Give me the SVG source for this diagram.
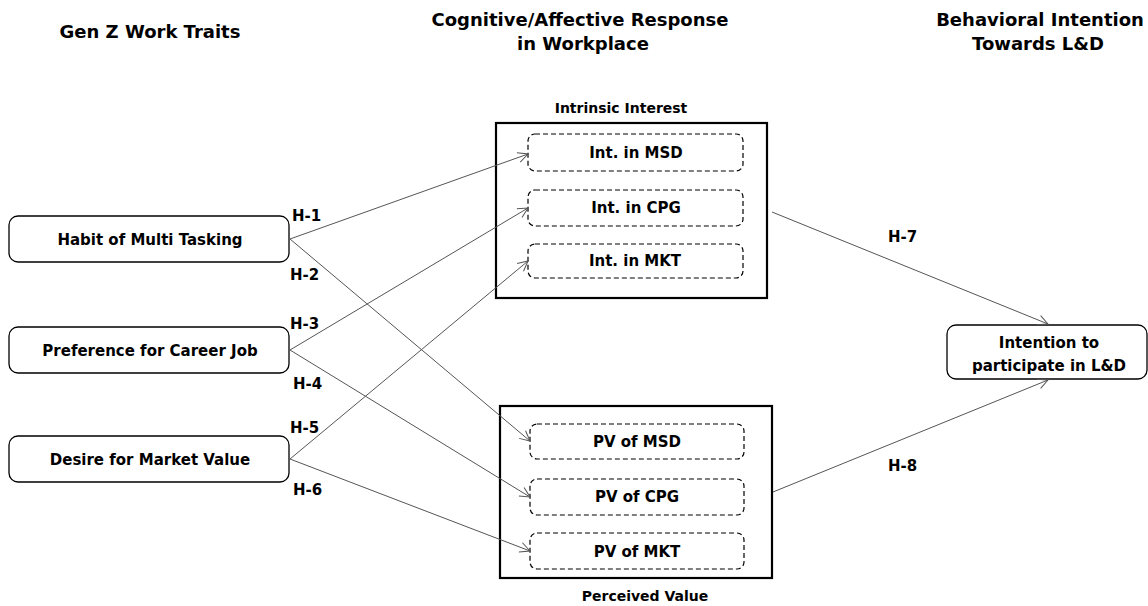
<svg xmlns="http://www.w3.org/2000/svg" width="1148" height="606" viewBox="0 0 1148 606">
<defs>
<marker id="arr" markerWidth="12" markerHeight="12" refX="11" refY="6" orient="auto" markerUnits="userSpaceOnUse">
<path d="M1,1 L11,6 L1,11" fill="none" stroke="#555" stroke-width="1"/>
</marker>
</defs>
<style>
text{font-family:"DejaVu Sans","Liberation Sans",sans-serif;font-weight:bold;fill:#000}
.h{font-size:18px}
.n{font-size:15px}
.g{font-size:14px}
.lbl{font-size:15px}
.node{fill:#fff;stroke:#000;stroke-width:1.3}
.grp{fill:none;stroke:#000;stroke-width:2.2}
.dash{fill:#fff;stroke:#000;stroke-width:1.2;stroke-dasharray:5,3}
.edge{stroke:#555;stroke-width:1;fill:none;marker-end:url(#arr)}
</style>
<rect width="1148" height="606" fill="#fff"/>
<g id="headings">
<text class="h" x="150" y="38" text-anchor="middle">Gen Z Work Traits</text>
<text class="h" x="580" y="26" text-anchor="middle">Cognitive/Affective Response</text>
<text class="h" x="583" y="50" text-anchor="middle">in Workplace</text>
<text class="h" x="1040" y="26" text-anchor="middle">Behavioral Intention</text>
<text class="h" x="1038" y="50" text-anchor="middle">Towards L&amp;D</text>
</g>
<g id="intrinsic">
<rect class="grp" x="496" y="123" width="271" height="175"/>
<text class="g" x="621" y="113" text-anchor="middle">Intrinsic Interest</text>
</g>
<g id="perceived">
<rect class="grp" x="500" y="406" width="272" height="172"/>
<text class="g" x="645" y="601" text-anchor="middle">Perceived Value</text>
</g>
<g id="habit">
<rect class="node" x="9" y="216" width="280" height="46" rx="9"/>
<text class="n" x="150" y="245" text-anchor="middle">Habit of Multi Tasking</text>
</g>
<g id="preference">
<rect class="node" x="9" y="327" width="280" height="46" rx="9"/>
<text class="n" x="150" y="356" text-anchor="middle">Preference for Career Job</text>
</g>
<g id="desire">
<rect class="node" x="9" y="436" width="280" height="46" rx="9"/>
<text class="n" x="150" y="465" text-anchor="middle">Desire for Market Value</text>
</g>
<g id="int-msd">
<rect class="dash" x="528" y="134" width="215" height="37" rx="7"/>
<text class="n" x="636" y="158" text-anchor="middle">Int. in MSD</text>
</g>
<g id="int-cpg">
<rect class="dash" x="528" y="190" width="215" height="36" rx="7"/>
<text class="n" x="636" y="213" text-anchor="middle">Int. in CPG</text>
</g>
<g id="int-mkt">
<rect class="dash" x="528" y="244" width="215" height="34" rx="7"/>
<text class="n" x="635" y="266" text-anchor="middle">Int. in MKT</text>
</g>
<g id="pv-msd">
<rect class="dash" x="530" y="424" width="214" height="35" rx="7"/>
<text class="n" x="637" y="447" text-anchor="middle">PV of MSD</text>
</g>
<g id="pv-cpg">
<rect class="dash" x="530" y="479" width="214" height="36" rx="7"/>
<text class="n" x="637" y="502" text-anchor="middle">PV of CPG</text>
</g>
<g id="pv-mkt">
<rect class="dash" x="530" y="533" width="214" height="36" rx="7"/>
<text class="n" x="637" y="557" text-anchor="middle">PV of MKT</text>
</g>
<g id="intention">
<rect class="node" x="947" y="325" width="200" height="54" rx="9"/>
<text class="n" x="1049" y="348" text-anchor="middle">Intention to</text>
<text class="n" x="1049" y="371" text-anchor="middle">participate in L&amp;D</text>
</g>
<g id="connectors">
<line class="edge" x1="290" y1="239" x2="528" y2="154"/>
<line class="edge" x1="290" y1="239" x2="530" y2="441"/>
<line class="edge" x1="290" y1="350" x2="528" y2="208"/>
<line class="edge" x1="290" y1="350" x2="530" y2="497"/>
<line class="edge" x1="290" y1="459" x2="528" y2="261"/>
<line class="edge" x1="290" y1="459" x2="530" y2="551"/>
<line class="edge" x1="772" y1="212" x2="1048" y2="324"/>
<line class="edge" x1="773" y1="492" x2="1048" y2="380"/>
</g>
<g id="labels">
<text class="lbl" x="292" y="221">H-1</text>
<text class="lbl" x="290" y="280">H-2</text>
<text class="lbl" x="290" y="329">H-3</text>
<text class="lbl" x="293" y="389">H-4</text>
<text class="lbl" x="290" y="433">H-5</text>
<text class="lbl" x="293" y="495">H-6</text>
<text class="lbl" x="888" y="242">H-7</text>
<text class="lbl" x="888" y="471">H-8</text>
</g>
</svg>
